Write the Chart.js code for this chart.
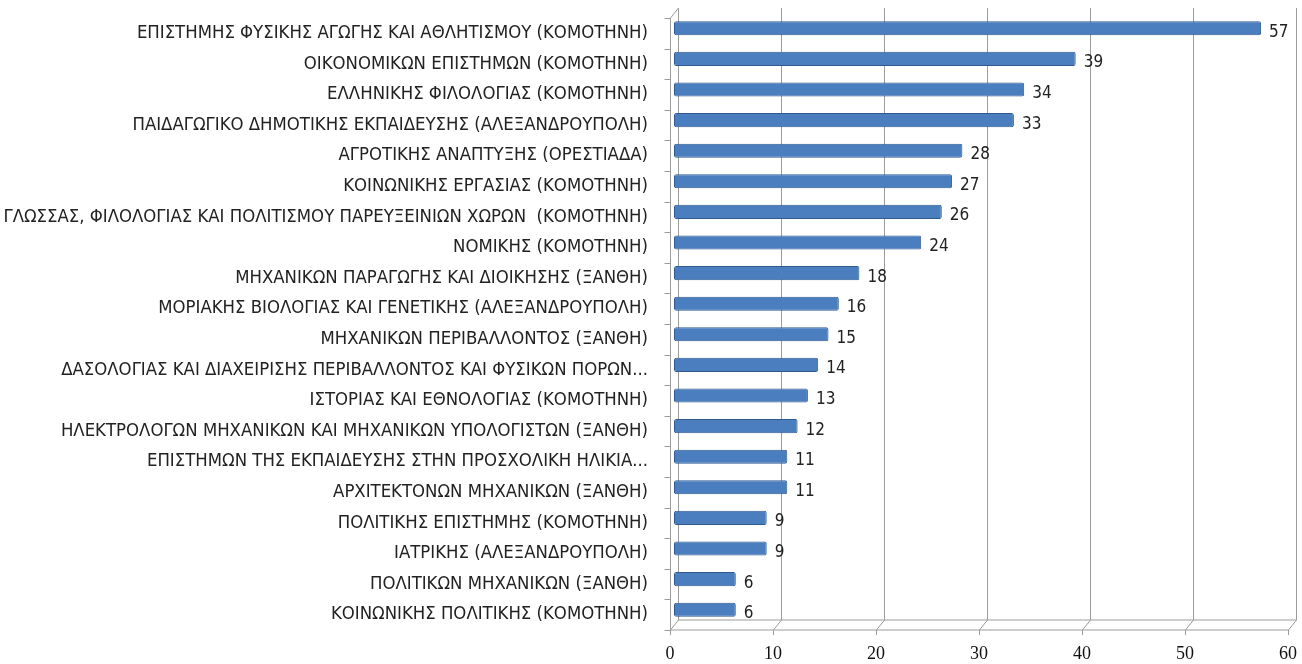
<!DOCTYPE html>
<html><head><meta charset="utf-8">
<script src="https://cdn.jsdelivr.net/npm/chart.js@4.4.1/dist/chart.umd.min.js"></script>
<style>html,body{margin:0;padding:0;background:#fff;}#wrap{width:1302px;height:664px;position:relative;}</style>
</head><body><div id="wrap"><canvas id="c" width="1302" height="664"></canvas></div>
<script>
const categories = [
 "ΕΠΙΣΤΗΜΗΣ ΦΥΣΙΚΗΣ ΑΓΩΓΗΣ ΚΑΙ ΑΘΛΗΤΙΣΜΟΥ (ΚΟΜΟΤΗΝΗ)",
 "ΟΙΚΟΝΟΜΙΚΩΝ ΕΠΙΣΤΗΜΩΝ (ΚΟΜΟΤΗΝΗ)",
 "ΕΛΛΗΝΙΚΗΣ ΦΙΛΟΛΟΓΙΑΣ (ΚΟΜΟΤΗΝΗ)",
 "ΠΑΙΔΑΓΩΓΙΚΟ ΔΗΜΟΤΙΚΗΣ ΕΚΠΑΙΔΕΥΣΗΣ (ΑΛΕΞΑΝΔΡΟΥΠΟΛΗ)",
 "ΑΓΡΟΤΙΚΗΣ ΑΝΑΠΤΥΞΗΣ (ΟΡΕΣΤΙΑΔΑ)",
 "ΚΟΙΝΩΝΙΚΗΣ ΕΡΓΑΣΙΑΣ (ΚΟΜΟΤΗΝΗ)",
 "ΓΛΩΣΣΑΣ, ΦΙΛΟΛΟΓΙΑΣ ΚΑΙ ΠΟΛΙΤΙΣΜΟΥ ΠΑΡΕΥΞΕΙΝΙΩΝ ΧΩΡΩΝ  (ΚΟΜΟΤΗΝΗ)",
 "ΝΟΜΙΚΗΣ (ΚΟΜΟΤΗΝΗ)",
 "ΜΗΧΑΝΙΚΩΝ ΠΑΡΑΓΩΓΗΣ ΚΑΙ ΔΙΟΙΚΗΣΗΣ (ΞΑΝΘΗ)",
 "ΜΟΡΙΑΚΗΣ ΒΙΟΛΟΓΙΑΣ ΚΑΙ ΓΕΝΕΤΙΚΗΣ (ΑΛΕΞΑΝΔΡΟΥΠΟΛΗ)",
 "ΜΗΧΑΝΙΚΩΝ ΠΕΡΙΒΑΛΛΟΝΤΟΣ (ΞΑΝΘΗ)",
 "ΔΑΣΟΛΟΓΙΑΣ ΚΑΙ ΔΙΑΧΕΙΡΙΣΗΣ ΠΕΡΙΒΑΛΛΟΝΤΟΣ ΚΑΙ ΦΥΣΙΚΩΝ ΠΟΡΩΝ...",
 "ΙΣΤΟΡΙΑΣ ΚΑΙ ΕΘΝΟΛΟΓΙΑΣ (ΚΟΜΟΤΗΝΗ)",
 "ΗΛΕΚΤΡΟΛΟΓΩΝ ΜΗΧΑΝΙΚΩΝ ΚΑΙ ΜΗΧΑΝΙΚΩΝ ΥΠΟΛΟΓΙΣΤΩΝ (ΞΑΝΘΗ)",
 "ΕΠΙΣΤΗΜΩΝ ΤΗΣ ΕΚΠΑΙΔΕΥΣΗΣ ΣΤΗΝ ΠΡΟΣΧΟΛΙΚΗ ΗΛΙΚΙΑ...",
 "ΑΡΧΙΤΕΚΤΟΝΩΝ ΜΗΧΑΝΙΚΩΝ (ΞΑΝΘΗ)",
 "ΠΟΛΙΤΙΚΗΣ ΕΠΙΣΤΗΜΗΣ (ΚΟΜΟΤΗΝΗ)",
 "ΙΑΤΡΙΚΗΣ (ΑΛΕΞΑΝΔΡΟΥΠΟΛΗ)",
 "ΠΟΛΙΤΙΚΩΝ ΜΗΧΑΝΙΚΩΝ (ΞΑΝΘΗ)",
 "ΚΟΙΝΩΝΙΚΗΣ ΠΟΛΙΤΙΚΗΣ (ΚΟΜΟΤΗΝΗ)"
];
const values = [57,39,34,33,28,27,26,24,18,16,15,14,13,12,11,11,9,9,6,6];
const xTicks = [0,10,20,30,40,50,60];

const labelFamily = "'DejaVu Sans Condensed', 'DejaVu Sans', sans-serif";
const mctx = document.createElement('canvas').getContext('2d');
mctx.font = "100px " + labelFamily;
let maxW = 0; categories.forEach(c => { maxW = Math.max(maxW, mctx.measureText(c).width); });
const labelSize = Math.floor(100 * 646 / maxW * 10) / 10;

const DX = 4, DY = 5; // half depth of the 3D frame
const GRID = '#9c9c9c';

const frame3d = {
  id: 'frame3d',
  beforeDatasetsDraw(chart) {
    const ctx = chart.ctx, xs = chart.scales.x, a = chart.chartArea;
    ctx.save();
    ctx.strokeStyle = GRID; ctx.lineWidth = 1;
    const top = a.top - DY, bot = a.bottom - DY, fbot = a.bottom + DY;
    ctx.beginPath();
    xTicks.forEach(v => {
      const x = Math.round(xs.getPixelForValue(v)) + 0.5;
      ctx.moveTo(x + DX, top); ctx.lineTo(x + DX, bot); ctx.lineTo(x - DX, fbot);
      ctx.moveTo(x - DX, fbot); ctx.lineTo(x - DX, fbot + 5);
    });
    const x0 = Math.round(xs.getPixelForValue(0)) + 0.5, x1 = Math.round(xs.getPixelForValue(60)) + 0.5;
    ctx.moveTo(x0 + DX, bot); ctx.lineTo(x1 + DX, bot);
    ctx.moveTo(x0 - DX, fbot); ctx.lineTo(x1 - DX, fbot);
    ctx.moveTo(x0 + DX, top); ctx.lineTo(x0 - DX, top + 2 * DY); ctx.lineTo(x0 - DX, fbot);
    const n = categories.length;
    for (let i = 0; i <= n; i++) {
      const y = Math.round(a.top + (a.bottom - a.top) * i / n + DY) + 0.5;
      ctx.moveTo(x0 - DX - 6, y); ctx.lineTo(x0 - DX, y);
    }
    ctx.stroke();
    ctx.restore();
  },
  afterDatasetsDraw(chart) {
    const ctx = chart.ctx;
    const meta = chart.getDatasetMeta(0);
    ctx.save();
    ctx.font = "17px " + labelFamily;
    ctx.fillStyle = '#222';
    ctx.textBaseline = 'middle';
    ctx.textAlign = 'left';
    meta.data.forEach((bar, i) => {
      ctx.fillText(String(values[i]), bar.x + 8, bar.y + 4);
    });
    ctx.restore();
  }
};

const barFill = (context) => {
  const chart = context.chart;
  const el = context.element;
  if (!el || !chart.chartArea) return '#4a7ebf';
  const y = el.y, h = el.height;
  if (!Number.isFinite(y) || !Number.isFinite(h) || h <= 0) return '#4a7ebf';
  const g = chart.ctx.createLinearGradient(0, y - h/2, 0, y + h/2);
  g.addColorStop(0, '#7ea6da');
  g.addColorStop(0.18, '#4f83c3');
  g.addColorStop(0.75, '#4577b8');
  g.addColorStop(1, '#2f5e99');
  return g;
};

new Chart(document.getElementById('c'), {
  type: 'bar',
  data: {
    labels: categories,
    datasets: [{
      data: values,
      backgroundColor: barFill,
      borderColor: '#2e5a90',
      borderWidth: 1,
      borderRadius: 2,
      borderSkipped: false,
      barPercentage: 0.5,
      categoryPercentage: 0.92
    }]
  },
  plugins: [frame3d],
  options: {
    indexAxis: 'y',
    responsive: false,
    animation: false,
    layout: { padding: { top: 13, right: 10, left: 0, bottom: 0 } },
    plugins: { legend: { display: false }, tooltip: { enabled: false } },
    scales: {
      x: {
        min: 0, max: 60,
        afterBuildTicks(axis) { axis.ticks = xTicks.map(v => ({ value: v })); },
        afterFit(axis) { axis.height = 39; axis.paddingLeft = 0; axis.paddingRight = 0; },
        grid: { display: false },
        border: { display: false },
        ticks: { color: '#111', font: { family: "'Liberation Serif', serif", size: 18 }, padding: 10, labelOffset: -DX }
      },
      y: {
        afterFit(axis) { axis.width = 674; axis.paddingTop = 0; axis.paddingBottom = 0; },
        grid: { display: false },
        border: { display: false },
        ticks: { color: '#222', font: { family: labelFamily, size: labelSize }, padding: 18, labelOffset: 5, autoSkip: false }
      }
    }
  }
});
</script></body></html>
